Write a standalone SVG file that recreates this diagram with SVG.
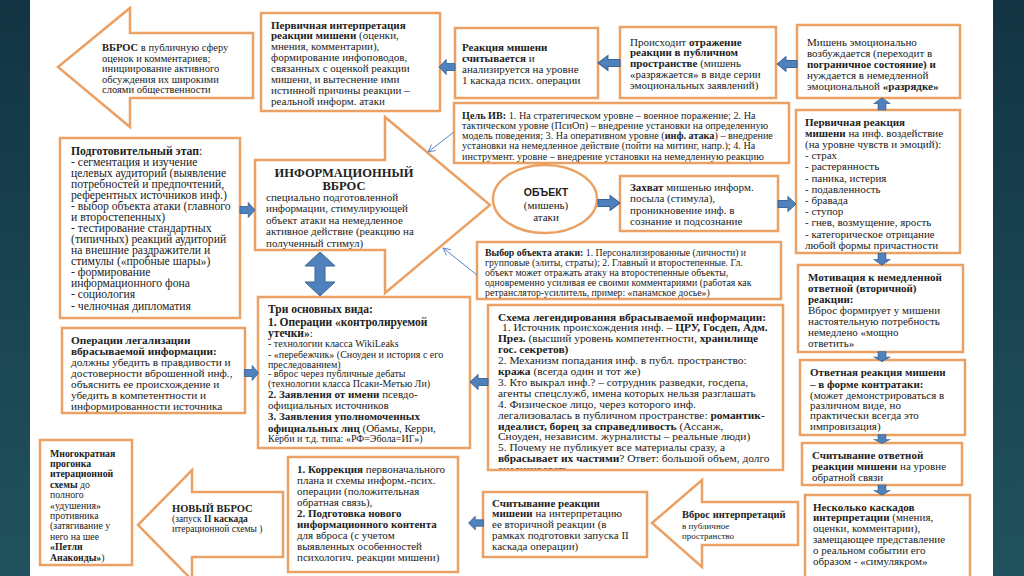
<svg xmlns="http://www.w3.org/2000/svg" width="1024" height="576" viewBox="0 0 1024 576">
<defs>
<style>
.box{fill:#fff;stroke:#EBA164;stroke-width:2.5}
.t{font-family:"Liberation Serif","Times New Roman",serif;fill:#222;font-size:11px}
.b{font-weight:bold}
.s10{font-size:10px}
.s95{font-size:9.8px}
.blue{fill:#4F81BD;stroke:#3A6496;stroke-width:1}
.thin{stroke:#5B86C4;stroke-width:1;fill:none}
</style>
<linearGradient id="side" x1="0" y1="0" x2="0" y2="1">
<stop offset="0" stop-color="#123442"/>
<stop offset="1" stop-color="#22525F"/>
</linearGradient>
<marker id="open" viewBox="0 0 10 10" refX="9" refY="5" markerWidth="9" markerHeight="9" orient="auto" markerUnits="userSpaceOnUse">
<path d="M1,1 L9,5 L1,9" fill="none" stroke="#5B86C4" stroke-width="1"/>
</marker>
<path id="ar" d="M-10,-3.5 H1 V-7.5 L10,0 L1,7.5 V3.5 H-10 Z"/>
<clipPath id="clipS"><rect x="488" y="305" width="295" height="165"/></clipPath>
</defs>
<rect width="1024" height="576" fill="#fff"/>
<rect x="0" y="0" width="30" height="576" fill="url(#side)"/>
<rect x="993" y="0" width="31" height="576" fill="url(#side)"/>

<g id="vbros-top">
<polygon class="box" points="58,67 130,8 130,33 253,33 253,98 130,98 130,127"/>
<text class="t" style="font-size:10.5px"><tspan x="102" y="51"><tspan class="b">ВБРОС</tspan> в публичную сферу</tspan><tspan x="102" y="61.5">оценок и комментариев;</tspan><tspan x="102" y="72">инициирование активного</tspan><tspan x="102" y="82.5">обсуждения их широкими</tspan><tspan x="102" y="93">слоями общественности</tspan></text>
</g>

<g id="interp1">
<rect class="box" x="261" y="13" width="179" height="98"/>
<text class="t"><tspan x="271" y="28.5" class="b">Первичная интерпретация</tspan><tspan x="271" y="39.4"><tspan class="b">реакции мишени</tspan> (оценки,</tspan><tspan x="271" y="50.3">мнения, комментарии),</tspan><tspan x="271" y="61.2">формирование инфоповодов,</tspan><tspan x="271" y="72.1">связанных с оценкой реакции</tspan><tspan x="271" y="83">мишени, и вытеснение ими</tspan><tspan x="271" y="93.9">истинной причины реакции –</tspan><tspan x="271" y="104.8">реальной информ. атаки</tspan></text>
</g>

<g id="reading1">
<rect class="box" x="455" y="28" width="143" height="70"/>
<text class="t"><tspan x="462" y="50.5" class="b">Реакция мишени</tspan><tspan x="462" y="61.5"><tspan class="b">считывается</tspan> и</tspan><tspan x="462" y="72.5">анализируется на уровне</tspan><tspan x="462" y="83.5">1 каскада псих. операции</tspan></text>
</g>

<g id="reflection">
<rect class="box" x="620" y="27" width="156" height="71"/>
<text class="t"><tspan x="630" y="45.5">Происходит <tspan class="b">отражение</tspan></tspan><tspan x="630" y="56.3" class="b">реакции в публичном</tspan><tspan x="630" y="67.1"><tspan class="b">пространстве</tspan> (мишень</tspan><tspan x="630" y="77.9">«разряжается» в виде серии</tspan><tspan x="630" y="88.7">эмоциональных заявлений)</tspan></text>
</g>

<g id="excited">
<rect class="box" x="797" y="25" width="163" height="73"/>
<text class="t"><tspan x="807" y="45.5">Мишень эмоционально</tspan><tspan x="807" y="56.5">возбуждается (переходит в</tspan><tspan x="807" y="67.5" class="b">пограничное состояние) и</tspan><tspan x="807" y="78.5">нуждается в немедленной</tspan><tspan x="807" y="89.5">эмоциональной <tspan class="b">«разрядке»</tspan></tspan></text>
</g>

<g id="primary-reaction">
<rect class="box" x="796" y="110" width="164" height="143"/>
<text class="t"><tspan x="805" y="125.5" class="b">Первичная реакция</tspan><tspan x="805" y="136.7"><tspan class="b">мишени</tspan> на инф. воздействие</tspan><tspan x="805" y="147.9">(на уровне чувств и эмоций):</tspan><tspan x="805" y="159.1">- страх</tspan><tspan x="805" y="170.3">- растерянность</tspan><tspan x="805" y="181.5">- паника, истерия</tspan><tspan x="805" y="192.7">- подавленность</tspan><tspan x="805" y="203.9">- бравада</tspan><tspan x="805" y="215.1">- ступор</tspan><tspan x="805" y="226.3">- гнев, возмущение, ярость</tspan><tspan x="805" y="237.5">- категорическое отрицание</tspan><tspan x="805" y="248.7">любой формы причастности</tspan></text>
</g>

<g id="motivation">
<rect class="box" x="798" y="265" width="165" height="87"/>
<text class="t"><tspan x="808" y="280.5" class="b">Мотивация к немедленной</tspan><tspan x="808" y="291.5" class="b">ответной (вторичной)</tspan><tspan x="808" y="302.5" class="b">реакции:</tspan><tspan x="808" y="313.5">Вброс формирует у мишени</tspan><tspan x="808" y="324.5">настоятельную потребность</tspan><tspan x="808" y="335.5">немедлено «мощно</tspan><tspan x="808" y="346.5">ответить»</tspan></text>
</g>

<g id="counterattack">
<rect class="box" x="800" y="360" width="165" height="75"/>
<text class="t"><tspan x="810" y="375.5" class="b">Ответная реакция мишени</tspan><tspan x="810" y="387.5" class="b">– в форме контратаки:</tspan><tspan x="810" y="398.5">(может демонстрироваться в</tspan><tspan x="810" y="408.8">различном виде, но</tspan><tspan x="810" y="419.3">практически всегда это</tspan><tspan x="810" y="430.2">импровизация)</tspan></text>
</g>

<g id="reading2">
<rect class="box" x="802" y="443" width="160" height="42"/>
<text class="t"><tspan x="812" y="458.5" class="b">Считывание ответной</tspan><tspan x="812" y="469.5"><tspan class="b">реакции мишени</tspan> на уровне</tspan><tspan x="812" y="480.5">обратной связи</tspan></text>
</g>

<g id="cascades">
<rect class="box" x="805" y="495" width="165" height="86"/>
<text class="t"><tspan x="813" y="510.5" class="b">Несколько каскадов</tspan><tspan x="813" y="521.4"><tspan class="b">интерпретации</tspan> (мнения,</tspan><tspan x="813" y="532.3">оценки, комментарии),</tspan><tspan x="813" y="543.2">замещающее представление</tspan><tspan x="813" y="554.1">о реальном событии его</tspan><tspan x="813" y="565">образом - «симулякром»</tspan></text>
</g>

<g id="goal">
<rect class="box" x="454" y="103" width="335" height="60"/>
<text class="t" style="font-size:10.2px"><tspan x="462" y="118.5"><tspan class="b">Цель ИВ:</tspan> 1. На стратегическом уровне – военное поражение; 2. На</tspan><tspan x="462" y="128.8">тактическом уровне (ПсиОп) – внедрение установки на определенную</tspan><tspan x="462" y="139.1">модель поведения; 3. На оперативном уровне (<tspan class="b">инф. атака</tspan>) – внедрение</tspan><tspan x="462" y="149.4">установки на немедленное действие (пойти на митинг, напр.); 4. На</tspan><tspan x="462" y="159.7">инструмент.  уровне – внедрение установки на немедленную реакцию</tspan></text>
</g>

<g id="info-drop">
<polygon class="box" points="255,160 385,160 385,117 490,205 385,293 385,250 255,250"/>
<text class="t b" style="font-size:12.5px" text-anchor="middle"><tspan x="344" y="177">ИНФОРМАЦИОННЫЙ</tspan><tspan x="344" y="190">ВБРОС</tspan></text>
<text class="t"><tspan x="266" y="201">специально подготовленной</tspan><tspan x="266" y="212.3">информации, стимулирующей</tspan><tspan x="266" y="223.6">объект атаки на немедленное</tspan><tspan x="266" y="235">активное действие (реакцию на</tspan><tspan x="266" y="246.5">полученный стимул)</tspan></text>
</g>

<g id="object">
<ellipse class="box" cx="545" cy="199" rx="52" ry="34"/>
<text x="546" y="196" text-anchor="middle" style="font-family:'Liberation Sans',Arial,sans-serif;font-weight:bold;font-size:10.5px;fill:#222">ОБЪЕКТ</text>
<text class="t" text-anchor="middle"><tspan x="546" y="209">(мишень)</tspan><tspan x="546" y="221">атаки</tspan></text>
</g>

<g id="capture">
<rect class="box" x="620" y="176" width="158" height="55"/>
<text class="t"><tspan x="630" y="190.5"><tspan class="b">Захват</tspan> мишенью информ.</tspan><tspan x="630" y="202">посыла (стимула),</tspan><tspan x="630" y="213.5">проникновение инф. в</tspan><tspan x="630" y="225">сознание и подсознание</tspan></text>
</g>

<g id="target-choice">
<rect class="box" x="477" y="242" width="304" height="57"/>
<text class="t s95"><tspan x="485" y="255.5"><tspan class="b">Выбор объекта атаки:</tspan>  1. Персонализированные (личности) и</tspan><tspan x="485" y="265.5">групповые (элиты, страты); 2.  Главный и второстепенные. Гл.</tspan><tspan x="485" y="275.5">объект может отражать атаку на второстепенные объекты,</tspan><tspan x="485" y="285.5">одновременно усиливая ее своими комментариями (работая как</tspan><tspan x="485" y="295.5">ретранслятор-усилитель, пример: «панамское досье»)</tspan></text>
</g>

<g id="legend-scheme">
<text class="t" style="font-size:11.4px" clip-path="url(#clipS)"><tspan x="498" y="320.5" class="b">Схема легендирования вбрасываемой информации:</tspan><tspan x="502" y="331.4">1. Источник происхождения инф. – <tspan class="b">ЦРУ, Госдеп, Адм.</tspan></tspan><tspan x="498" y="342.3"><tspan class="b">През.</tspan> (высший уровень компетентности, <tspan class="b">хранилище</tspan></tspan><tspan x="498" y="353.2" class="b">гос. секретов)</tspan><tspan x="498" y="364.1">2. Механизм попадания инф. в публ. пространство:</tspan><tspan x="498" y="375"><tspan class="b">кража</tspan> (всегда один и тот же)</tspan><tspan x="498" y="385.9">3. Кто выкрал инф.? – сотрудник разведки, госдепа,</tspan><tspan x="498" y="396.8">агенты спецслужб, имена которых нельзя разглашать</tspan><tspan x="498" y="407.7">4. Физическое лицо, через которого инф.</tspan><tspan x="498" y="418.6">легализовалась в публичном пространстве: <tspan class="b">романтик-</tspan></tspan><tspan x="498" y="429.5"><tspan class="b">идеалист, борец за справедливость</tspan> (Ассанж,</tspan><tspan x="498" y="440.4">Сноуден, независим. журналисты – реальные люди)</tspan><tspan x="498" y="451.3">5. Почему не публикует все материалы сразу, а</tspan><tspan x="498" y="462.2"><tspan class="b">вбрасывает их частями</tspan>? Ответ: большой объем, долго</tspan><tspan x="498" y="473.1">анализировать</tspan></text>
<rect class="box" x="488" y="305" width="295" height="165" style="fill:none"/>
</g>

<g id="three-types">
<rect class="box" x="258" y="297" width="212" height="151"/>
<text class="t"><tspan x="268" y="312.5" class="b" style="font-size:11.5px">Три основных вида:</tspan><tspan x="268" y="325.5" class="b" style="font-size:11.5px">1. Операции «контролируемой</tspan><tspan x="268" y="336.5"><tspan class="b" style="font-size:11.5px">утечки»</tspan>:</tspan><tspan x="268" y="346.5" class="s10">- технологии класса WikiLeaks</tspan><tspan x="268" y="357.5" class="s10">- «перебежчик» (Сноуден и история с его</tspan><tspan x="268" y="367.5" class="s10">преследованием)</tspan><tspan x="268" y="377" class="s10">- вброс через публичные дебаты</tspan><tspan x="268" y="387" class="s10">(технологии класса Псаки-Метью Ли)</tspan><tspan x="268" y="397.5"><tspan class="b">2. Заявления от имени</tspan> псевдо-</tspan><tspan x="268" y="408.5">официальных источников</tspan><tspan x="268" y="419.5" class="b">3. Заявления уполномоченных</tspan><tspan x="268" y="431.5"><tspan class="b">официальных лиц</tspan> (Обамы, Керри,</tspan><tspan x="268" y="441.5" class="s10">Кёрби и т.д. типа: «РФ=Эбола=ИГ»)</tspan></text>
</g>

<g id="prep-stage">
<rect class="box" x="60" y="138" width="180" height="180"/>
<text class="t" style="font-size:11.7px"><tspan x="71" y="154.5"><tspan class="b">Подготовительный этап</tspan>:</tspan><tspan x="71" y="165.6">-  сегментация и изучение</tspan><tspan x="71" y="176.6">целевых аудиторий (выявление</tspan><tspan x="71" y="187.7">потребностей и предпочтений,</tspan><tspan x="71" y="198.8">референтных источников инф.)</tspan><tspan x="71" y="209.9">- выбор объекта атаки (главного</tspan><tspan x="71" y="220.9">и второстепенных)</tspan><tspan x="71" y="232">- тестирование стандартных</tspan><tspan x="71" y="243.1">(типичных) реакций аудиторий</tspan><tspan x="71" y="254.1">на внешние раздражители и</tspan><tspan x="71" y="265.2">стимулы («пробные шары»)</tspan><tspan x="71" y="276.3">- формирование</tspan><tspan x="71" y="287.3">информационного фона</tspan><tspan x="71" y="298.4">- социология</tspan><tspan x="71" y="309.5">- челночная дипломатия</tspan></text>
</g>

<g id="legalization">
<rect class="box" x="62" y="328" width="183" height="85"/>
<text class="t" style="font-size:11.3px"><tspan x="71" y="343.5" class="b">Операции легализации</tspan><tspan x="71" y="354.5" class="b">вбрасываемой информации:</tspan><tspan x="71" y="365.5">должны убедить в правдивости и</tspan><tspan x="71" y="376.5">достоверности вброшенной инф.,</tspan><tspan x="71" y="387.5">объяснить ее происхождение и</tspan><tspan x="71" y="398.5">убедить в компетентности  и</tspan><tspan x="71" y="409.5">информированности источника</tspan></text>
</g>

<g id="iteration">
<rect class="box" x="40" y="440" width="92" height="125"/>
<text class="t" style="font-size:9.8px"><tspan x="50" y="456.5" class="b">Многократная</tspan><tspan x="50" y="466.9" class="b">прогонка</tspan><tspan x="50" y="477.3" class="b">итерационной</tspan><tspan x="50" y="487.7"><tspan class="b">схемы</tspan> до</tspan><tspan x="50" y="498.1">полного</tspan><tspan x="50" y="508.5">«удушения»</tspan><tspan x="50" y="518.9">противника</tspan><tspan x="50" y="529.3">(затягивание у</tspan><tspan x="50" y="539.7">него  на шее</tspan><tspan x="50" y="550.1" class="b">«Петли</tspan><tspan x="50" y="560.5"><tspan class="b">Анаконды»</tspan>)</tspan></text>
</g>

<g id="new-drop">
<polygon class="box" points="138,525 192,470 192,492 283,492 283,557 192,557 192,580"/>
<text class="t"><tspan x="172" y="511.5" class="b" style="font-size:10.5px">НОВЫЙ ВБРОС</tspan><tspan x="172" y="521.5" style="font-size:9.5px">(запуск <tspan class="b">II каскада</tspan></tspan><tspan x="172" y="531.5" style="font-size:9.5px">итерационной схемы )</tspan></text>
</g>

<g id="correction">
<rect class="box" x="288" y="457" width="170" height="115"/>
<text class="t"><tspan x="297" y="472.5"><tspan class="b">1. Коррекция</tspan> первоначального</tspan><tspan x="297" y="483.6">плана и схемы информ.-псих.</tspan><tspan x="297" y="494.7">операции (положительная</tspan><tspan x="297" y="505.8">обратная связь),</tspan><tspan x="297" y="516.9" class="b">2. Подготовка нового</tspan><tspan x="297" y="528" class="b">информационного контента</tspan><tspan x="297" y="539.1">для вброса (с учетом</tspan><tspan x="297" y="550.2">выявленных особенностей</tspan><tspan x="297" y="561.3">психологич. реакции мишени)</tspan></text>
</g>

<g id="reading3">
<rect class="box" x="483" y="492" width="164" height="65"/>
<text class="t"><tspan x="492" y="506.5" class="b">Считывание реакции</tspan><tspan x="492" y="517.3"><tspan class="b">мишени</tspan> на интерпретацию</tspan><tspan x="492" y="528.1">ее вторичной реакции (в</tspan><tspan x="492" y="538.9">рамках подготовки запуска II</tspan><tspan x="492" y="549.7">каскада операции)</tspan></text>
</g>

<g id="interp-drop">
<polygon class="box" points="652,523 702,480 702,502 798,502 798,545 702,545 702,567"/>
<text class="t"><tspan x="682" y="518" class="b" style="font-size:10.5px">Вброс интерпретаций</tspan><tspan x="682" y="529" style="font-size:9px">в публичное</tspan><tspan x="682" y="538.5" style="font-size:9px">пространство</tspan></text>
</g>

<g id="connectors">
<use href="#ar" class="blue" transform="translate(447,67) rotate(180) scale(0.8,1)"/>
<use href="#ar" class="blue" transform="translate(609,63) rotate(180) scale(1.1,1)"/>
<use href="#ar" class="blue" transform="translate(787,64) rotate(180) scale(1,1)"/>
<use href="#ar" class="blue" transform="translate(882,104) rotate(-90) scale(0.6,1.07)"/>
<use href="#ar" class="blue" transform="translate(609,203) scale(1.1,1)"/>
<use href="#ar" class="blue" transform="translate(787,204) scale(0.9,1)"/>
<use href="#ar" class="blue" transform="translate(882,259) rotate(90) scale(0.6,1.07)"/>
<use href="#ar" class="blue" transform="translate(882,356.5) rotate(90) scale(0.5,1.07)"/>
<use href="#ar" class="blue" transform="translate(882,439) rotate(90) scale(0.45,1.07)"/>
<use href="#ar" class="blue" transform="translate(882,490) rotate(90) scale(0.5,1.07)"/>
<use href="#ar" class="blue" transform="translate(247.5,210) scale(0.75,1)"/>
<use href="#ar" class="blue" transform="translate(251.5,373) scale(0.7,1)"/>
<use href="#ar" class="blue" transform="translate(479,382) rotate(180) scale(0.9,1)"/>
<use href="#ar" class="blue" transform="translate(476,523) rotate(180) scale(0.75,0.9)"/>
<polygon class="blue" points="320,252 335,266 325,266 325,282 335,282 320,296 305,282 315,282 315,266 305,266"/>
<line class="thin" x1="454" y1="132" x2="428" y2="152" marker-end="url(#open)"/>
<line class="thin" x1="477" y1="275" x2="443" y2="248" marker-end="url(#open)"/>
</g>
</svg>
